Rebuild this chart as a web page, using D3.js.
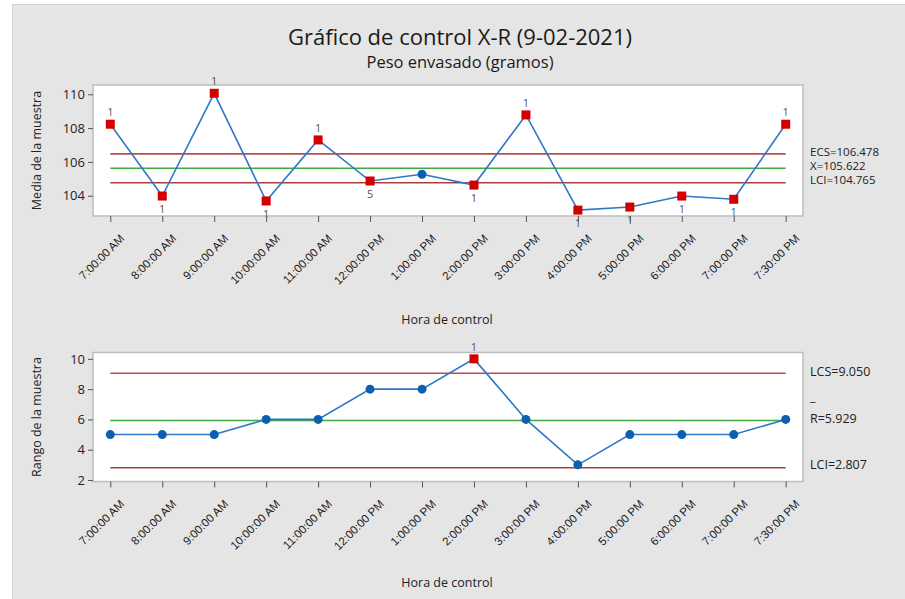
<!DOCTYPE html>
<html><head><meta charset="utf-8">
<script src="https://cdn.jsdelivr.net/npm/d3@7"></script>
<style>body{margin:0;background:#fff}svg{display:block;font-family:"Open Sans","Noto Sans",sans-serif}</style>
</head><body><svg id="c" width="905" height="599"></svg>
<script>
const categories = ["7:00:00 AM","8:00:00 AM","9:00:00 AM","10:00:00 AM","11:00:00 AM","12:00:00 PM","1:00:00 PM","2:00:00 PM","3:00:00 PM","4:00:00 PM","5:00:00 PM","6:00:00 PM","7:00:00 PM","7:30:00 PM"];
const means = [108.23,103.98,110.06,103.69,107.30,104.87,105.27,104.63,108.78,103.15,103.33,103.98,103.79,108.23];
const meanFlags = ["1","1","1","1","1","5","","1","1","1","1","1","1","1"];
const meanFlagPos = ["up","down","up","down","up","down","","down","up","down","down","down","down","up"];
const ranges = [5,5,5,6,6,8,8,10,6,3,5,5,5,6];
const rangeFlags = ["","","","","","","","1","","","","","",""];
const meanLimits = {ucl:106.478, cl:105.622, lcl:104.765};
const rangeLimits = {ucl:9.050, cl:5.929, lcl:2.807};
const meanTicks = [104,106,108,110];
const rangeTicks = [2,4,6,8,10];

const svg = d3.select("#c");
svg.append("rect").attr("x",12.5).attr("y",4.5).attr("width",900).attr("height",600)
  .attr("fill","#e5e5e5").attr("stroke","#d2d2d2");

svg.append("text").attr("x",460).attr("y",45).attr("text-anchor","middle")
  .attr("font-size",22).attr("fill","#1a1a1a").text("Gráfico de control X-R (9-02-2021)");
svg.append("text").attr("x",460).attr("y",68).attr("text-anchor","middle")
  .attr("font-size",16.5).attr("fill","#1a1a1a").text("Peso envasado (gramos)");

const left = 93, right = 803;
const x = d3.scalePoint().domain(categories).range([left, right]).padding(0.333);

function panel(cfg){
  const g = svg.append("g");
  const y = d3.scaleLinear().domain(cfg.domain).range([cfg.bottom, cfg.top]);
  g.append("rect").attr("x",left).attr("y",cfg.top).attr("width",right-left).attr("height",cfg.bottom-cfg.top)
    .attr("fill","#fff").attr("stroke","#bdbdbd").attr("stroke-width",1.5);
  const ya = g.append("g").attr("transform",`translate(${left},0)`)
    .call(d3.axisLeft(y).tickValues(cfg.ticks).tickSize(5).tickPadding(3).tickFormat(d3.format("d")));
  ya.select(".domain").remove();
  ya.selectAll("line").attr("stroke","#555");
  ya.selectAll("text").attr("font-size",13).attr("fill","#222").attr("font-family","'Open Sans',sans-serif");
  const xa = g.append("g").attr("transform",`translate(0,${cfg.bottom})`)
    .call(d3.axisBottom(x).tickSize(6).tickPadding(3));
  xa.select(".domain").remove();
  xa.selectAll("line").attr("stroke","#555");
  xa.selectAll("text").attr("font-size",11.5).attr("fill","#1a1a1a")
    .attr("text-anchor","end").attr("dy","0.35em")
    .attr("transform","translate(5,14) rotate(-45)");
  g.append("text").attr("transform",`translate(${cfg.ytx},${(cfg.top+cfg.bottom)/2}) rotate(-90)`)
    .attr("text-anchor","middle").attr("font-size",12.5).attr("fill","#222").text(cfg.ytitle);
  g.append("text").attr("x",447).attr("y",cfg.xty).attr("text-anchor","middle")
    .attr("font-size",12.5).attr("fill","#222").text("Hora de control");
  const x0 = x(categories[0]), x1 = x(categories[categories.length-1]);
  [["ucl","#b03a3a"],["cl","#2aa02a"],["lcl","#9e2a2a"]].forEach(([k,c])=>{
    g.append("line").attr("x1",x0).attr("x2",x1).attr("y1",y(cfg.limits[k])).attr("y2",y(cfg.limits[k]))
      .attr("stroke",c).attr("stroke-width",1.6).attr("stroke-opacity",0.9);
  });
  g.append("path").datum(cfg.values).attr("fill","none").attr("stroke","#2e78c6").attr("stroke-width",1.6)
    .attr("d",d3.line().x((d,i)=>x(categories[i])).y(d=>y(d)));
  cfg.values.forEach((v,i)=>{
    const cx = x(categories[i]), cy = y(v);
    if(cfg.flags[i]){
      g.append("rect").attr("x",cx-4.5).attr("y",cy-4.5).attr("width",9).attr("height",9).attr("fill","#d40000");
      const up = cfg.flagPos ? cfg.flagPos[i]==="up" : true;
      g.append("text").attr("x",cx).attr("y",up?cy-8:cy+17).attr("text-anchor","middle")
        .attr("font-size",11).attr("fill","#555").text(cfg.flags[i]);
    } else {
      g.append("circle").attr("cx",cx).attr("cy",cy).attr("r",4.5).attr("fill","#0d5fb0");
    }
  });
  cfg.labels.forEach(l=>{
    g.append("text").attr("x",810).attr("y",l.y).attr("font-size",cfg.lfs).attr("fill","#222")
      .attr("dominant-baseline","middle").text(l.t);
  });
  return y;
}

panel({top:85, bottom:216, domain:[102.8,110.55], ticks:meanTicks, values:means, flags:meanFlags, flagPos:meanFlagPos,
  limits:meanLimits, ytitle:"Media de la muestra", ytx:41, xty:324, lfs:11.5,
  labels:[{t:"ECS="+meanLimits.ucl.toFixed(3), y:152.5},{t:"X="+meanLimits.cl.toFixed(3), y:166.5},{t:"LCI="+meanLimits.lcl.toFixed(3), y:181}]});

panel({top:352.5, bottom:481.5, domain:[1.9,10.42], ticks:rangeTicks, values:ranges, flags:rangeFlags,
  limits:rangeLimits, ytitle:"Rango de la muestra", ytx:41, xty:587, lfs:12.5,
  labels:[{t:"LCS="+rangeLimits.ucl.toFixed(3), y:373},{t:"_", y:398},{t:"R="+rangeLimits.cl.toFixed(3), y:419.5},{t:"LCI="+rangeLimits.lcl.toFixed(3), y:466}]});
</script></body></html>
